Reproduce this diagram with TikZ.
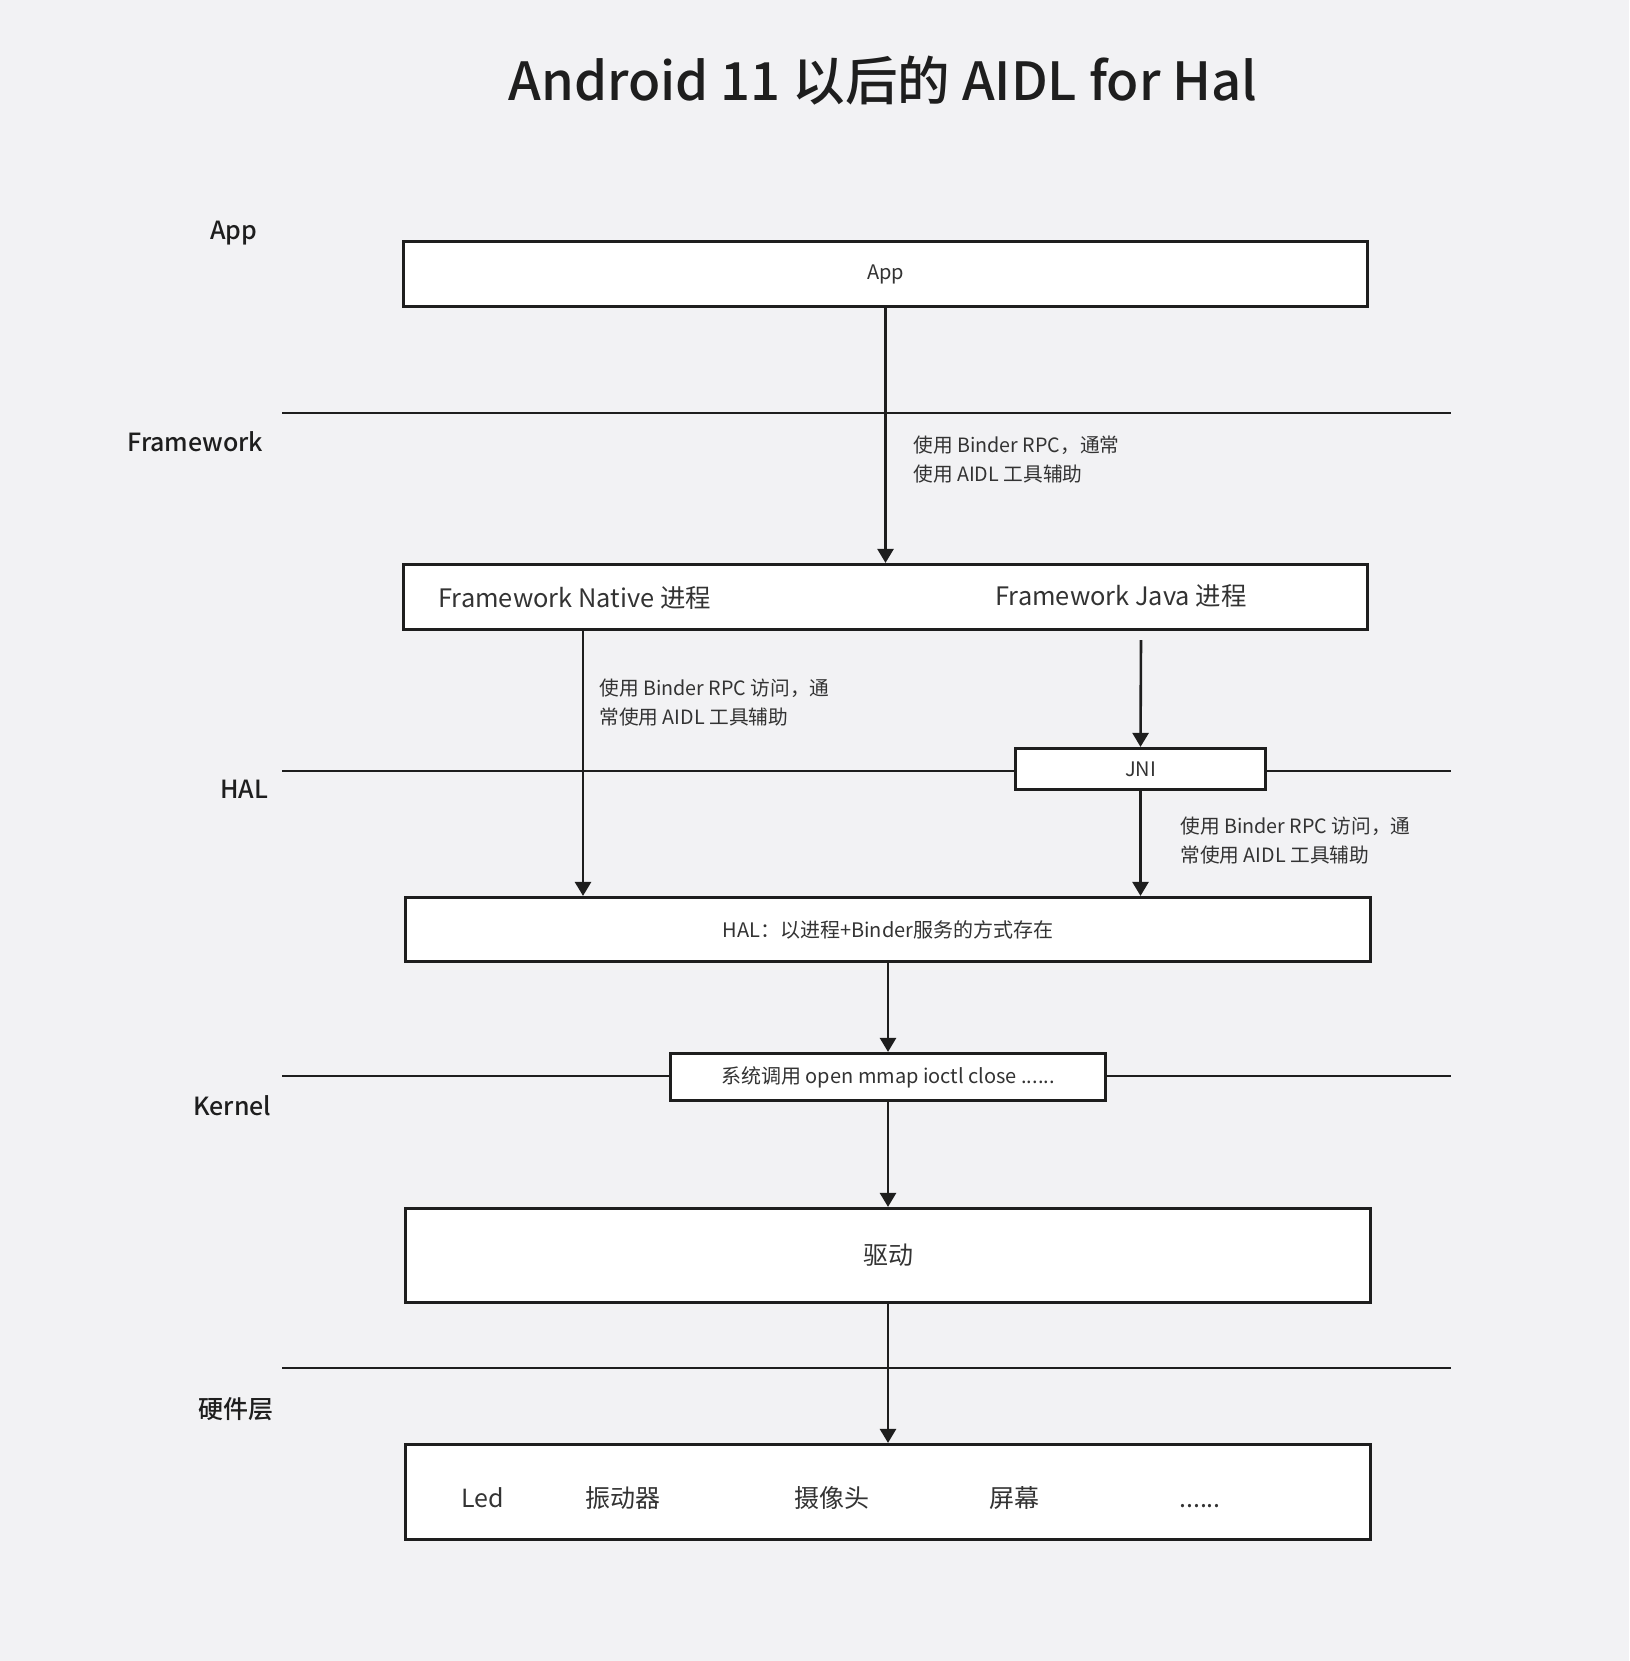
\documentclass[tikz,border=0pt]{standalone}
\usepackage{fontspec}
\setmainfont{Noto Sans CJK SC}
\newfontfamily\medfont{Noto Sans CJK SC Medium}
\usetikzlibrary{arrows.meta,positioning}
\definecolor{bgcol}{HTML}{F2F2F4}
\definecolor{inkcol}{HTML}{1E1E1E}
\definecolor{txtcol}{HTML}{333333}
\tikzset{
	layerline/.style={line width=1.4pt, draw=inkcol},
	layername/.style={anchor=base west, inner sep=0pt, text=inkcol, font=\medfont\fontsize{12.5}{15}\selectfont},
	blockbox/.style={rectangle, draw=inkcol, fill=white, line width=1.6pt, inner sep=0pt, text=txtcol, font=\fontsize{10}{12}\selectfont},
	flowarrow/.style={line width=1.3pt, draw=inkcol, -{Triangle[width=8pt,length=7pt]}},
	note/.style={anchor=west, align=left, inner sep=0pt, text=txtcol, font=\fontsize{9.85}{14.5}\selectfont},
	procname/.style={anchor=base west, inner sep=0pt, text=txtcol, font=\fontsize{12.7}{15}\selectfont},
	device/.style={anchor=base, inner sep=0pt, text=txtcol, font=\fontsize{12.5}{15}\selectfont}
}
\begin{document}
\begin{tikzpicture}[x=0.5pt, y=-0.5pt]
	\fill[bgcol] (0,0) rectangle (1629,1661);
	\useasboundingbox (0,0) rectangle (1629,1661);
	\node (title) at (883,100)[anchor=base, inner sep=0pt, text=inkcol, font=\medfont\fontsize{26.3}{31}\selectfont]{Android 11 以后的 AIDL for Hal};
	\draw[layerline] (282,413) -- (1451,413);
	\draw[layerline] (282,771) -- (1451,771);
	\draw[layerline] (282,1076) -- (1451,1076);
	\draw[layerline] (282,1368) -- (1451,1368);
	\node (l01) at (210,239)[layername]{App};
	\node (l02) at (127,451)[layername]{Framework};
	\node (l03) at (220,798)[layername]{HAL};
	\node (l04) at (193,1115)[layername]{Kernel};
	\node (l05) at (198,1418)[layername]{硬件层};
	\node (app) at (885.5,274)[blockbox, minimum width=482pt, minimum height=32.5pt]{App};
	\node (fw) at (885.5,597)[blockbox, minimum width=482pt, minimum height=32.5pt]{};
	\node (fwnat) at (438,607)[procname]{Framework Native 进程};
	\node (fwjava) at (995,605)[procname]{Framework Java 进程};
	\node (jni) at (1140.5,769)[blockbox, minimum width=125pt, minimum height=20.5pt]{JNI};
	\node (hal) at (888,929.5)[blockbox, minimum width=482.5pt, minimum height=32pt]{HAL：以进程+Binder服务的方式存在};
	\node (sys) at (888,1077)[blockbox, minimum width=217.5pt, minimum height=23.5pt]{系统调用 open mmap ioctl close ......};
	\node (drv) at (888,1255.5)[blockbox, minimum width=482.5pt, minimum height=47pt, font=\fontsize{12.5}{15}\selectfont]{驱动};
	\node (hw) at (888,1492)[blockbox, minimum width=482.5pt, minimum height=47.5pt]{};
	\node (d01) at (483,1507)[device]{Led};
	\node (d02) at (623,1507)[device]{振动器};
	\node (d03) at (832,1507)[device]{摄像头};
	\node (d04) at (1014,1507)[device]{屏幕};
	\node (d05) at (1200,1507)[device]{......};
	\node (n01) at (913,459.5)[note]{使用 Binder RPC，通常\\使用 AIDL 工具辅助};
	\node (n02) at (599,703)[note]{使用 Binder RPC 访问，通\\常使用 AIDL 工具辅助};
	\node (n03) at (1180,841)[note]{使用 Binder RPC 访问，通\\常使用 AIDL 工具辅助};
	\coordinate (natv) at (583,700);
	\coordinate (javaout) at (1141,640);
	\draw[flowarrow] (app.south) -- (fw.north);
	\draw[flowarrow] (natv |- fw.south) -- (natv |- hal.north);
	\draw[flowarrow] (javaout) -- (jni.north);
	\draw[flowarrow] (jni.south) -- (jni.south |- hal.north);
	\draw[flowarrow] (hal.south) -- (sys.north);
	\draw[flowarrow] (sys.south) -- (drv.north);
	\draw[flowarrow] (drv.south) -- (hw.north);
\end{tikzpicture}
\end{document}
